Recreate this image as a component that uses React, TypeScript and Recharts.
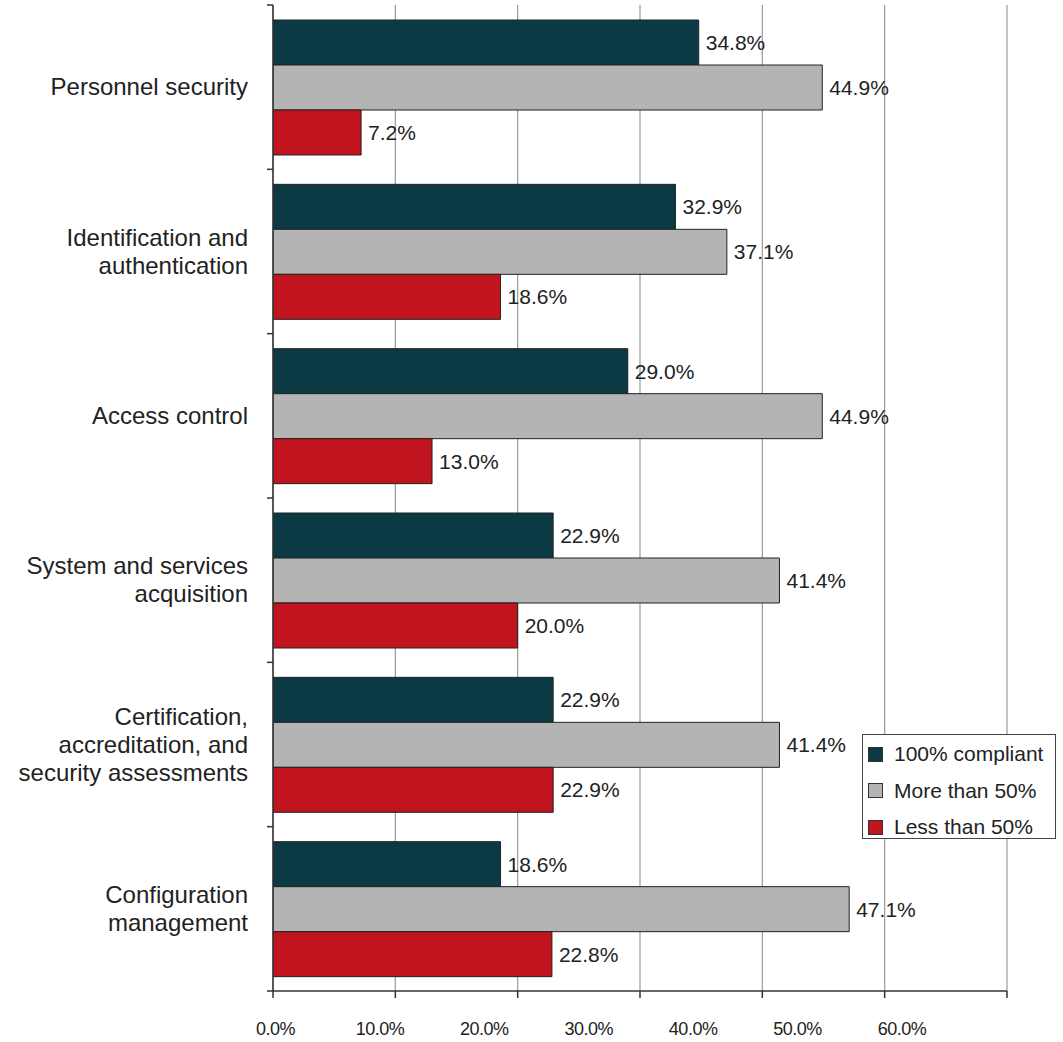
import React from "react";
import { BarChart, Bar, XAxis, YAxis, CartesianGrid, Legend, LabelList } from "recharts";

// Share of organisations by compliance level, per control family
const categories = [
  "Personnel security",
  "Identification and\nauthentication",
  "Access control",
  "System and services\nacquisition",
  "Certification,\naccreditation, and\nsecurity assessments",
  "Configuration\nmanagement",
];
const compliant = [34.8, 32.9, 29.0, 22.9, 22.9, 18.6];
const moreThanHalf = [44.9, 37.1, 44.9, 41.4, 41.4, 47.1];
const lessThanHalf = [7.2, 18.6, 13.0, 20.0, 22.9, 22.8];

const gridTicks = [0, 10, 20, 30, 40, 50, 60];
const labelTicks = [0, 10, 20, 30, 40, 50, 60];

const series = [
  { key: "compliant", name: "100% compliant", color: "#0b3944" },
  { key: "more", name: "More than 50%", color: "#b4b4b4" },
  { key: "less", name: "Less than 50%", color: "#c1141f" },
];

const data = categories.map((category, i) => ({
  category,
  compliant: compliant[i],
  more: moreThanHalf[i],
  less: lessThanHalf[i],
}));

const FONT = "'Liberation Sans', Arial, Helvetica, sans-serif";
const pct = (v: number) => `${Number(v).toFixed(1)}%`;

const CategoryTick = (props: any) => {
  const { x, y, payload, index } = props;
  const axisX = x + 8;
  const half = payload?.offset ?? 0;
  const lines = String(payload.value).split("\n");
  const lh = 28;
  const start = -((lines.length - 1) * lh) / 2 + 8;
  return (
    <g>
      <line x1={axisX - 6} x2={axisX} y1={y - half} y2={y - half} stroke="#333" strokeWidth={1.5} />
      {index === categories.length - 1 && (
        <line x1={axisX - 6} x2={axisX} y1={y + half} y2={y + half} stroke="#333" strokeWidth={1.5} />
      )}
      <text x={axisX - 25} y={y} textAnchor="end" fontSize={24} fill="#222" fontFamily={FONT}>
        {lines.map((l, i) => (
          <tspan key={i} x={axisX - 25} dy={i === 0 ? start : lh}>
            {l}
          </tspan>
        ))}
      </text>
    </g>
  );
};

const LegendBox = () => (
  <div
    style={{
      width: 192,
      height: 103,
      border: "1.5px solid #444",
      background: "#fff",
      fontFamily: FONT,
      fontSize: 21,
      color: "#222",
      boxSizing: "content-box",
    }}
  >
    {series.map((s) => (
      <div key={s.key} style={{ display: "flex", alignItems: "center", height: 36.5, marginTop: s.key === "compliant" ? 1 : 0 }}>
        <span
          style={{
            display: "inline-block",
            width: 13,
            height: 13,
            marginLeft: 5,
            marginRight: 11,
            background: s.color,
            border: "1px solid #333",
          }}
        />
        <span>{s.name}</span>
      </div>
    ))}
  </div>
);

export default function App() {
  return (
    <div style={{ position: "absolute", left: 0, top: 0, background: "#fff" }}>
      <BarChart
        width={1063}
        height={1042}
        data={data}
        layout="vertical"
        margin={{ top: 5, right: 56, bottom: 0, left: 0 }}
        barCategoryGap={15}
        barGap={0}
      >
        <CartesianGrid xAxisId="a" horizontal={false} stroke="#999" strokeWidth={1.2} />
        <XAxis
          xAxisId="a"
          type="number"
          domain={[0, 60]}
          allowDataOverflow
          ticks={gridTicks}
          interval={0}
          tickFormatter={() => ""}
          tickSize={7}
          height={8}
          axisLine={{ stroke: "#333", strokeWidth: 1.5 }}
          tickLine={{ stroke: "#333", strokeWidth: 1.5 }}
        />
        <XAxis
          xAxisId="b"
          type="number"
          domain={[-0.24, 70.06]}
          allowDataOverflow
          ticks={labelTicks}
          tickFormatter={pct}
          axisLine={false}
          tickLine={false}
          tickSize={0}
          tickMargin={23}
          height={43}
          interval={0}
          tick={{ fontSize: 18, fill: "#222", fontFamily: FONT, letterSpacing: -0.5 }}
        />
        <YAxis
          type="category"
          dataKey="category"
          width={273}
          interval={0}
          axisLine={{ stroke: "#333", strokeWidth: 1.5 }}
          tickLine={false}
          tick={<CategoryTick />}
        />
        <Legend
          layout="horizontal"
          verticalAlign="middle"
          align="center"
          content={<LegendBox />}
          wrapperStyle={{ left: 862, top: 734, width: 195, height: 106 }}
        />
        {series.map((s) => (
          <Bar
            key={s.key}
            xAxisId="a"
            dataKey={s.key}
            name={s.name}
            fill={s.color}
            stroke="#222"
            strokeWidth={1}
            isAnimationActive={false}
          >
            <LabelList
              dataKey={s.key}
              position="right"
              offset={7}
              formatter={pct}
              fill="#222"
              fontSize={21}
              fontFamily={FONT}
            />
          </Bar>
        ))}
      </BarChart>
    </div>
  );
}
